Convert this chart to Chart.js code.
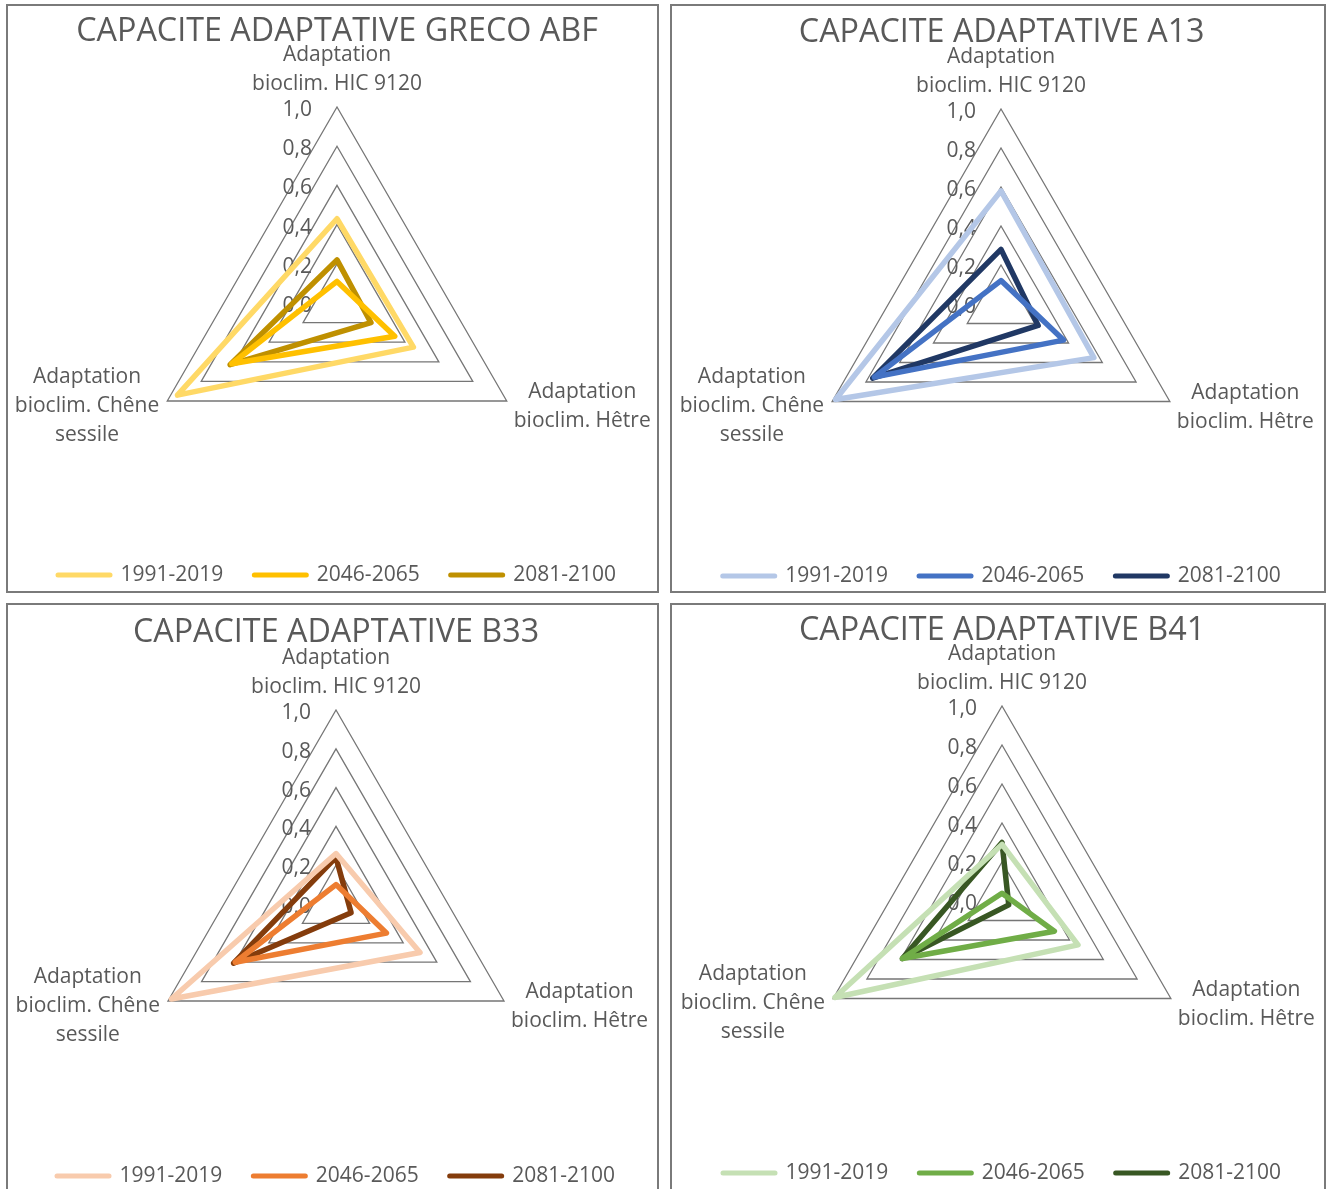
<!DOCTYPE html>
<html>
<head>
<meta charset="utf-8">
<script src="https://cdn.jsdelivr.net/npm/chart.js@4.4.1/dist/chart.umd.min.js"></script>
<style>
  html, body { margin: 0; padding: 0; background: #ffffff; overflow: hidden; width: 1336px; height: 1189px; }
  .panel { position: absolute; box-sizing: border-box; border: 2px solid #7a7a7a; background: transparent; }
  .panel canvas { position: absolute; left: 0; top: 0; }
</style>
</head>
<body>
<script>
// ---------- DATA ----------
const axisLabels = [
  ['Adaptation', 'bioclim. HIC 9120'],
  ['Adaptation', 'bioclim. Hêtre'],
  ['Adaptation', 'bioclim. Chêne', 'sessile']
];
const periods = ['1991-2019', '2046-2065', '2081-2100'];

const titleABF = 'CAPACITE ADAPTATIVE GRECO ABF';
const titleA13 = 'CAPACITE ADAPTATIVE A13';
const titleB33 = 'CAPACITE ADAPTATIVE B33';
const titleB41 = 'CAPACITE ADAPTATIVE B41';

// values: [HIC 9120, Hêtre, Chêne sessile]
const abf1991 = [0.43, 0.45, 0.94];
const abf2046 = [0.11, 0.34, 0.62];
const abf2081 = [0.22, 0.20, 0.63];

const a13_1991 = [0.58, 0.55, 0.98];
const a13_2046 = [0.12, 0.37, 0.75];
const a13_2081 = [0.28, 0.22, 0.76];

const b33_1991 = [0.26, 0.50, 0.98];
const b33_2046 = [0.10, 0.30, 0.60];
const b33_2081 = [0.24, 0.09, 0.61];

const b41_1991 = [0.29, 0.45, 0.99];
const b41_2046 = [0.04, 0.31, 0.59];
const b41_2081 = [0.30, 0.04, 0.59];

const tickMin = 0, tickMax = 1, tickStep = 0.2;

// ---------- STYLE / LAYOUT ----------
const TEXT = '#595959';
const FONT = '"Open Sans", "DejaVu Sans", sans-serif';
const TITLE_SIZE = 32.3, LABEL_SIZE = 21, LINE_H = 29, LEG_PAD = 31;

const charts = [
  { title: titleABF, series: [abf1991, abf2046, abf2081], colors: ['#FFD966', '#FFC000', '#BF9000'],
    panel: { L: 6, T: 4, W: 653, H: 589 }, cx: 337, cy: 303.5, R: 196, titleY: 30, legendY: 573 },
  { title: titleA13, series: [a13_1991, a13_2046, a13_2081], colors: ['#B4C7E7', '#4472C4', '#203864'],
    panel: { L: 670, T: 4, W: 656, H: 589 }, cx: 1001.7, cy: 304.2, R: 195, titleY: 31, legendY: 574 },
  { title: titleB33, series: [b33_1991, b33_2046, b33_2081], colors: ['#F8CBAD', '#ED7D31', '#843C0C'],
    panel: { L: 6, T: 603, W: 653, H: 592 }, cx: 336, cy: 904.3, R: 194, titleY: 631, legendY: 1174 },
  { title: titleB41, series: [b41_1991, b41_2046, b41_2081], colors: ['#C5E0B4', '#70AD47', '#385723'],
    panel: { L: 670, T: 603, W: 656, H: 592 }, cx: 1002, cy: 901.5, R: 195, titleY: 629, legendY: 1171 }
];

const excelLabels = {
  id: 'excelLabels',
  beforeDatasetsDraw(chart) {
    const s = chart.scales.r;
    const ctx = chart.ctx;
    ctx.save();
    ctx.fillStyle = TEXT;
    ctx.font = LABEL_SIZE + 'px ' + FONT;
    ctx.textBaseline = 'middle';
    // tick labels
    ctx.textAlign = 'right';
    s.ticks.forEach(t => {
      const d = s.getDistanceFromCenterForValue(t.value);
      ctx.fillText(t.label, s.xCenter - 25, s.yCenter - d + 3);
    });
    // point (axis) labels
    ctx.textAlign = 'center';
    chart.data.labels.forEach((lines, i) => {
      const p = s.getPointPosition(i, s.drawingArea);
      const w = Math.max(...lines.map(l => ctx.measureText(l).width));
      let x, yTop;
      if (i === 0) {
        x = p.x; yTop = p.y - 23 - (lines.length - 1) * LINE_H;
      } else if (p.x > s.xCenter) {
        x = p.x + 7 + w / 2; yTop = p.y + 6 - (lines.length - 1) * LINE_H / 2;
      } else {
        x = p.x - 8 - w / 2; yTop = p.y + 5 - (lines.length - 1) * LINE_H / 2;
      }
      lines.forEach((l, k) => ctx.fillText(l, x, yTop + k * LINE_H));
    });
    ctx.restore();
  }
};

charts.forEach(c => {
  const div = document.createElement('div');
  div.className = 'panel';
  Object.assign(div.style, { left: c.panel.L + 'px', top: c.panel.T + 'px', width: c.panel.W + 'px', height: c.panel.H + 'px' });
  document.body.appendChild(div);
  const canvas = document.createElement('canvas');
  const cw = c.panel.W - 4, ch = 660;
  canvas.width = cw; canvas.height = ch;
  canvas.style.width = cw + 'px'; canvas.style.height = ch + 'px';
  div.appendChild(canvas);

  const ox = c.panel.L + 2, oy = c.panel.T + 2;
  const cx = c.cx - ox, cy = c.cy - oy, ty = c.titleY - oy + 2, ly = c.legendY - oy + 2, R = c.R;

  let padL = 2 * cx - cw, padR = 0;
  if (padL < 0) { padR = -padL; padL = 0; }
  const titleLH = TITLE_SIZE * 1.2;
  const tPadTop = ty - titleLH / 2;
  const tPadBot = (cy - R) - tPadTop - titleLH;
  const legTitleH = ly - LABEL_SIZE / 2 - LEG_PAD - (cy + R);
  const legTitlePadBot = Math.max(0, legTitleH - 12);
  const legendH = 12 + legTitlePadBot + LABEL_SIZE + LEG_PAD + 10;
  const padB = ch - (cy + R) - legendH;

  new Chart(canvas, {
    type: 'radar',
    data: {
      labels: axisLabels,
      datasets: c.series.map((vals, k) => ({
        label: periods[k],
        data: vals,
        borderColor: c.colors[k],
        backgroundColor: c.colors[k],
        borderWidth: 5.5,
        borderJoinStyle: 'round',
        borderCapStyle: 'round',
        fill: false,
        pointRadius: 0,
        pointHoverRadius: 0,
        tension: 0
      }))
    },
    options: {
      responsive: false,
      animation: false,
      events: [],
      layout: { padding: { left: padL, right: padR, top: 0, bottom: padB } },
      scales: {
        r: {
          min: tickMin, max: tickMax,
          ticks: { stepSize: tickStep, display: false,
            callback: v => v.toFixed(1).replace('.', ',') },
          grid: { color: '#767676', lineWidth: 1.3 },
          angleLines: { display: false },
          pointLabels: { display: false }
        }
      },
      plugins: {
        title: {
          display: true, text: c.title, color: TEXT,
          font: { family: FONT, size: TITLE_SIZE, weight: 'normal', lineHeight: 1.2 },
          padding: { top: tPadTop, bottom: tPadBot }
        },
        legend: {
          display: true, position: 'bottom',
          title: { display: true, text: ' ', font: { size: 10, lineHeight: 1.2 }, padding: { top: 0, bottom: legTitlePadBot } },
          labels: {
            color: TEXT, font: { family: FONT, size: LABEL_SIZE },
            padding: LEG_PAD, usePointStyle: true, pointStyleWidth: 52,
            generateLabels: (chart) => chart.data.datasets.map((ds, i) => ({
              text: ds.label, strokeStyle: ds.borderColor, fillStyle: ds.borderColor,
              lineWidth: 5, lineCap: 'round', pointStyle: 'line', fontColor: TEXT,
              hidden: false, datasetIndex: i
            }))
          }
        },
        tooltip: { enabled: false }
      }
    },
    plugins: [excelLabels]
  });
});
</script>
</body>
</html>
